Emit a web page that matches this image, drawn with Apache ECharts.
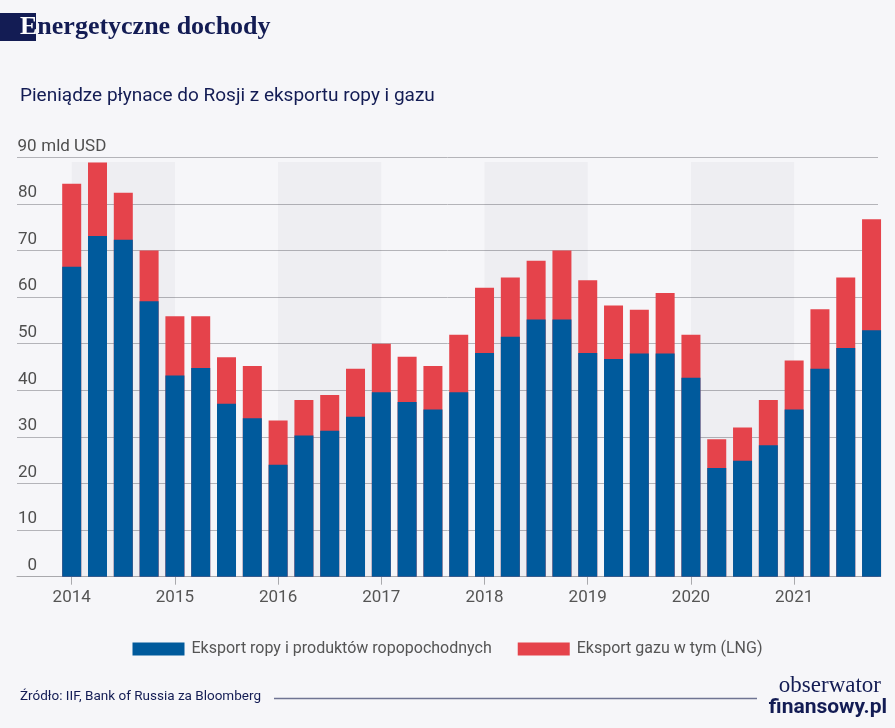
<!DOCTYPE html>
<html>
<head>
<meta charset="utf-8">
<script src="https://cdn.jsdelivr.net/npm/echarts@6/dist/echarts.min.js"></script>
<style>
  html, body { margin: 0; padding: 0; background: #f6f6f9; }
  #chart { width: 895px; height: 728px; }
</style>
</head>
<body>
<div id="chart"></div>
<script>
// lata (ticki co 4 kwartały)
var years = ['2014', '2015', '2016', '2017', '2018', '2019', '2020', '2021'];
// ropa i produkty ropopochodne, mld USD, kwartalnie 2014Q1 - 2021Q4
var oil = [66.5, 73.1, 72.3, 59.1, 43.2, 44.8, 37.1, 34.0,
           24.0, 30.3, 31.3, 34.3, 39.6, 37.5, 35.9, 39.6,
           48.0, 51.5, 55.2, 55.2, 48.0, 46.7, 47.9, 47.9,
           42.7, 23.3, 24.9, 28.2, 35.9, 44.6, 49.1, 52.9];
// gaz (w tym LNG), mld USD
var gas = [17.8, 15.8, 10.1, 10.9, 12.7, 11.1, 10.0, 11.2,
           9.5, 7.6, 7.7, 10.3, 10.4, 9.7, 9.3, 12.3,
           14.0, 12.7, 12.6, 14.8, 15.6, 11.5, 9.4, 13.0,
           9.2, 6.2, 7.1, 9.7, 10.5, 12.8, 15.1, 23.8];
var seriesNames = ['Eksport ropy i produktów ropopochodnych', 'Eksport gazu w tym (LNG)'];
var yTicks = [0, 10, 20, 30, 40, 50, 60, 70, 80, 90];

var navy = '#131c54';
var fontSans = 'Roboto, "Noto Sans", sans-serif';
var fontSerif = '"Liberation Serif", "DejaVu Serif", serif';

function makeOption() {
    var tickPos = years.map(function (y, i) { return i * 4; });
    // co drugi rok zacieniony
    var bands = [];
    for (var i = 0; i < years.length; i += 2) {
        bands.push([{ xAxis: i * 4, yAxis: 0 }, { xAxis: i * 4 + 4, yAxis: 89 }]);
    }
    // na osi wartości stack nie działa, więc gaz rysujemy od zera do sumy, a ropę na wierzchu
    var gasTop = gas.map(function (v, i) { return [i, +(oil[i] + v).toFixed(1)]; });
    var option = {
        backgroundColor: '#f6f6f9',
        animation: false,
        grid: { left: 17, right: 17, top: 157.3, bottom: 151.3 },
        legend: {
            left: 'center',
            top: 636,
            itemWidth: 52,
            itemHeight: 13,
            itemGap: 26,
            icon: 'rect',
            textStyle: { color: '#555', fontSize: 16, fontFamily: fontSans, padding: [0, 0, 0, 2] },
            data: seriesNames
        },
        xAxis: {
            type: 'value',
            min: -2.12,
            max: 31.25,
            splitLine: { show: false },
            axisLine: { lineStyle: { color: '#a9a9ad', width: 1 } },
            axisTick: { customValues: tickPos, length: 8, lineStyle: { color: '#a9a9ad' } },
            axisLabel: {
                customValues: tickPos,
                margin: 13,
                color: '#555',
                fontSize: 17,
                fontFamily: fontSans,
                formatter: function (v) { return years[Math.round(v / 4)]; }
            }
        },
        yAxis: {
            type: 'value',
            min: 0,
            max: yTicks[yTicks.length - 1],
            interval: 10,
            axisLine: { show: false },
            axisTick: { show: false },
            splitLine: { lineStyle: { color: '#b4b4b9', width: 1 } },
            axisLabel: {
                inside: true,
                margin: 0,
                verticalAlign: 'bottom',
                color: '#4f4f4f',
                fontSize: 17,
                fontFamily: fontSans,
                formatter: function (v) {
                    if (v === 90) return '{n|90}{u| mld USD}';
                    return '{n|' + v + '}';
                },
                rich: {
                    n: { width: 20, align: 'right', fontSize: 17, lineHeight: 22, color: '#4f4f4f', fontFamily: fontSans },
                    u: { fontSize: 17, lineHeight: 22, color: '#4f4f4f', fontFamily: fontSans }
                }
            }
        },
        series: [{
            name: seriesNames[0],
            type: 'bar',
            barWidth: 19,
            barGap: '-100%',
            clip: false,
            z: 3,
            itemStyle: { color: '#005a9c' },
            data: oil.map(function (v, i) { return [i, v]; }),
            markArea: {
                silent: true,
                itemStyle: { color: 'rgba(30,30,70,0.035)' },
                data: bands
            }
        }, {
            name: seriesNames[1],
            type: 'bar',
            barWidth: 19,
            barGap: '-100%',
            clip: false,
            z: 2,
            itemStyle: { color: '#e5434b' },
            data: gasTop
        }],
        graphic: [
            { type: 'rect', z: 10, shape: { x: 0, y: 13, width: 36, height: 28 }, style: { fill: navy } },
            {
                type: 'text', z: 11, x: 20, y: 14,
                style: {
                    text: '{e|E}{r|nergetyczne dochody}',
                    rich: {
                        e: { fill: '#fff', fontSize: 26, fontWeight: 'bold', fontFamily: fontSerif },
                        r: { fill: navy, fontSize: 26, fontWeight: 'bold', fontFamily: fontSerif }
                    }
                }
            },
            {
                type: 'text', x: 20, y: 87,
                style: { text: 'Pieniądze płynace do Rosji z eksportu ropy i gazu', fill: navy, fontSize: 19, fontFamily: fontSans }
            },
            {
                type: 'text', x: 20, y: 690,
                style: { text: 'Źródło: IIF, Bank of Russia za Bloomberg', fill: navy, fontSize: 13.5, fontFamily: fontSans }
            },
            {
                type: 'line', shape: { x1: 274, y1: 698.5, x2: 757, y2: 698.5 },
                style: { stroke: '#6f7493', lineWidth: 1.5 }
            },
            {
                type: 'text', right: 14, top: 674,
                style: { text: 'obserwator', fill: navy, fontSize: 23, fontFamily: fontSerif }
            },
            {
                type: 'text', right: 8, top: 697,
                style: { text: 'finansowy.pl', fill: navy, fontSize: 21, fontWeight: 'bold', fontFamily: fontSans }
            }
        ]
    };
    return option;
}

function setChart(id, option) {
    var myChart = echarts.init(document.getElementById(id));
    myChart.setOption(option);
}

setChart('chart', makeOption());
</script>
</body>
</html>
